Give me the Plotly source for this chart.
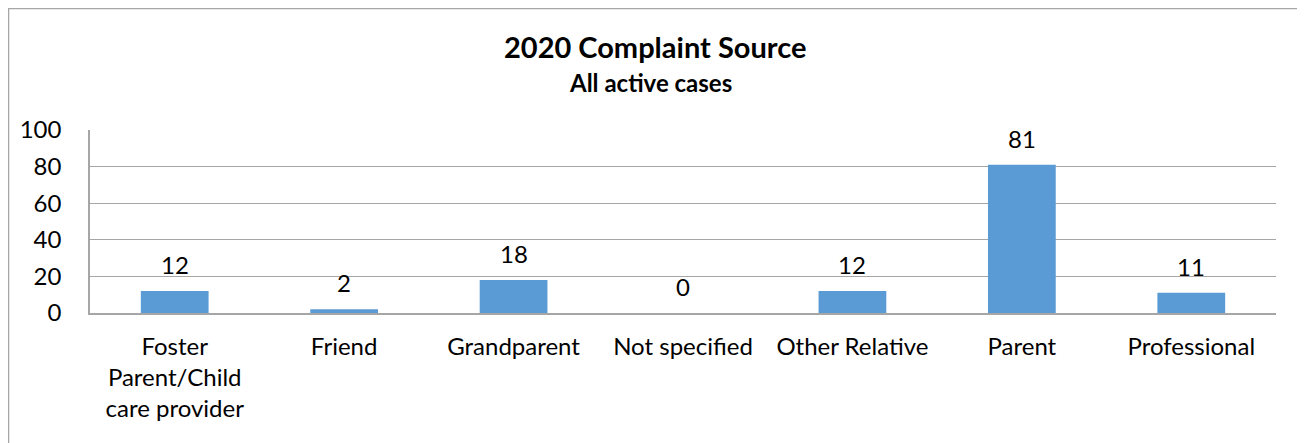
import plotly.graph_objects as go

categories = [
    "Foster<br>Parent/Child<br>care provider",
    "Friend",
    "Grandparent",
    "Not specified",
    "Other Relative",
    "Parent",
    "Professional",
]
counts = [12, 2, 18, 0, 12, 81, 11]
y_ticks = [0, 20, 40, 60, 80, 100]

BAR_COLOR = "#5B9BD5"
GRID_COLOR = "#A6A6A6"
FONT = "Lato"

fig = go.Figure()
fig.add_trace(
    go.Bar(x=categories, y=counts, marker=dict(color=BAR_COLOR, line=dict(width=0)))
)

# data labels above each bar, Excel style
for cat, val in zip(categories, counts):
    fig.add_annotation(
        x=cat, y=val, text=str(val), showarrow=False,
        yanchor="bottom", yshift=10,
        font=dict(family=FONT, size=24, color="black"),
    )

fig.add_annotation(
    text="<b>2020 Complaint Source</b>", xref="paper", yref="paper",
    x=0.476, y=1.0, yshift=84, showarrow=False, xanchor="center", yanchor="middle",
    font=dict(family=FONT, size=29, color="black"),
)
fig.add_annotation(
    text="<b>All active cases</b>", xref="paper", yref="paper",
    x=0.473, y=1.0, yshift=48, showarrow=False, xanchor="center", yanchor="middle",
    font=dict(family=FONT, size=24, color="black"),
)

# outer chart frame
fig.add_shape(
    type="rect", xref="paper", yref="paper",
    x0=-0.0687, x1=1.024, y0=-0.8, y1=1.664,
    line=dict(color=GRID_COLOR, width=1.5),
)

fig.update_layout(
    width=1305,
    height=443,
    margin=dict(l=82, r=37, t=122, b=138),
    paper_bgcolor="white",
    plot_bgcolor="white",
    bargap=0.6,
    showlegend=False,
    font=dict(family=FONT, size=24, color="black"),
)
fig.update_xaxes(
    showgrid=False, showline=True, linecolor=GRID_COLOR, linewidth=1.5,
    ticks="", ticklabelstandoff=11, tickfont=dict(size=24),
)
fig.update_yaxes(
    range=[0, 100], tickvals=y_ticks, showgrid=True, gridcolor=GRID_COLOR,
    gridwidth=1.2, showline=True, linecolor=GRID_COLOR, linewidth=1.5,
    zeroline=False, ticks="", ticklabelstandoff=22, tickfont=dict(size=24),
)

fig.write_html("out.html")
